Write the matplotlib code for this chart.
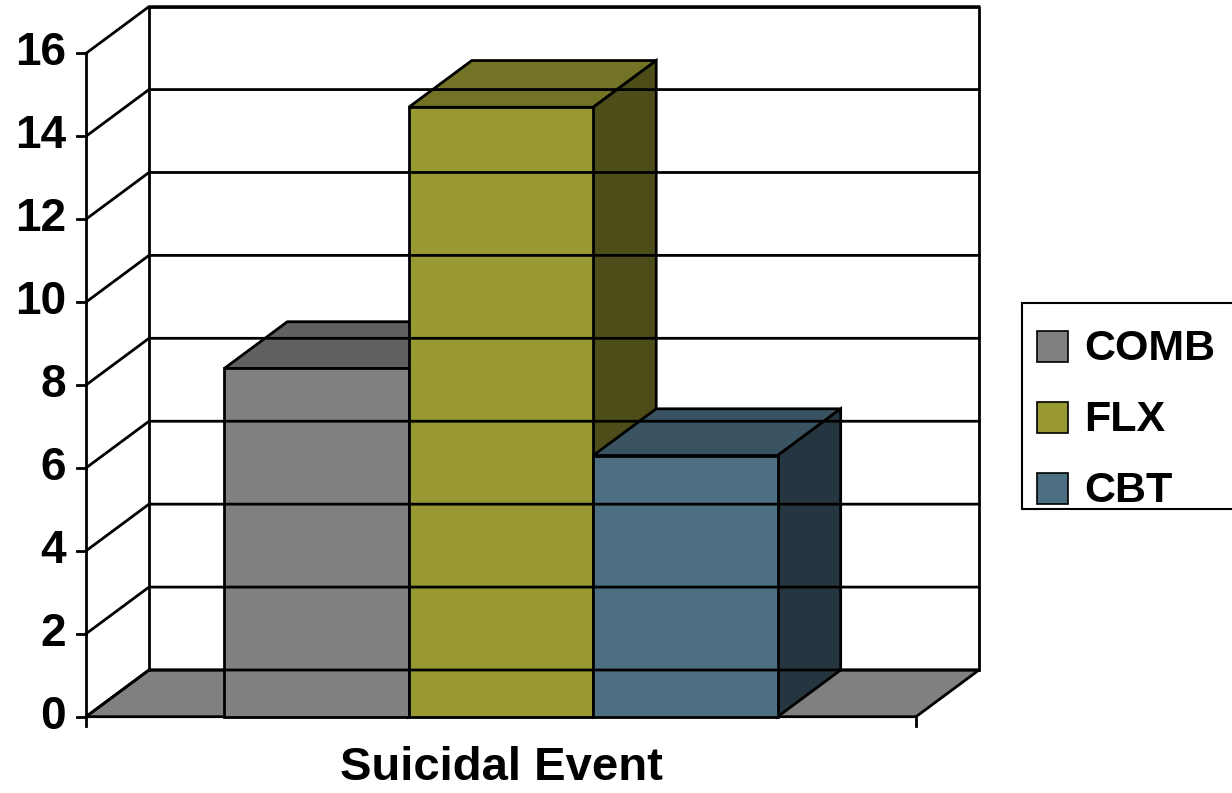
import matplotlib
matplotlib.use("Agg")
import matplotlib.pyplot as plt
from matplotlib.patches import Rectangle

# suicidal events (%) by treatment arm
groups = ['COMB', 'FLX', 'CBT']
values = [8.4, 14.7, 6.3]
category = 'Suicidal Event'
yticks = [0, 2, 4, 6, 8, 10, 12, 14, 16]

face = ['#808080', '#999933', '#4d6f82']
top = ['#606060', '#737326', '#3a5362']
side = ['#404040', '#4d4d1a', '#263640']

# chart geometry in pixels
X0, X1 = 86, 916          # front floor edge
Y0 = 716.7                 # front zero line
K = 41.46                  # px per unit
DX, DY = 63, -46.7         # depth offset
GAP = 1.5                  # gap width relative to bar width

W, H = 1232, 793
fig = plt.figure(figsize=(W / 100, H / 100), dpi=100)
ax = fig.add_axes([0, 0, 1, 1])
ax.set_xlim(0, W)
ax.set_ylim(H, 0)
ax.axis('off')

ymax = yticks[-1]
font = 'Liberation Sans'


def py(v, d=0.0):
    return Y0 - v * K + d * DY


def px(x, d=0.0):
    return x + d * DX


lw = 2
# back wall and left wall outline
ax.plot([px(X0, 1), px(X1, 1), px(X1, 1)], [py(ymax, 1), py(ymax, 1), py(0, 1)],
        color='k', lw=lw)
ax.plot([px(X0, 1), px(X0, 1)], [py(0, 1), py(ymax, 1)], color='k', lw=lw)
ax.plot([X0, X0], [py(0), py(ymax)], color='k', lw=lw)

for t in yticks:
    ax.plot([X0, px(X0, 1), px(X1, 1)], [py(t), py(t, 1), py(t, 1)], color='k', lw=lw)
    ax.plot([X0 - 9, X0], [py(t), py(t)], color='k', lw=lw)
    ax.text(X0 - 20, py(t), str(t), ha='right', va='center', fontsize=33,
            fontweight='bold', family=font)

# floor
ax.fill([X0, X1, px(X1, 1), px(X0, 1)], [py(0), py(0), py(0, 1), py(0, 1)],
        facecolor='#808080', edgecolor='k', lw=lw)
ax.plot([X0, X0], [py(0), py(0) + 9], color='k', lw=lw)
ax.plot([X1, X1], [py(0), py(0) + 9], color='k', lw=lw)

# 3d bars
n = len(values)
bw = (X1 - X0) / (n + GAP)
left0 = X0 + GAP / 2 * bw
for i, v in enumerate(values):
    l = left0 + i * bw
    r = l + bw
    ax.fill([l, r, px(r, 1), px(l, 1)], [py(v), py(v), py(v, 1), py(v, 1)],
            facecolor=top[i], edgecolor='k', lw=lw, joinstyle='miter')
    ax.fill([r, px(r, 1), px(r, 1), r], [py(0), py(0, 1), py(v, 1), py(v)],
            facecolor=side[i], edgecolor='k', lw=lw, joinstyle='miter')
    ax.fill([l, r, r, l], [py(0), py(0), py(v), py(v)],
            facecolor=face[i], edgecolor='k', lw=lw, joinstyle='miter')

ax.text((X0 + X1) / 2, 780, category, ha='center', va='baseline', fontsize=34,
        fontweight='bold', family=font)

# legend box, runs off the right edge
ax.add_patch(Rectangle((1022, 303), 240, 206, facecolor='white', edgecolor='k',
                       lw=1.5, clip_on=False))
for i, g in enumerate(groups):
    base = 360 + i * 71
    ax.add_patch(Rectangle((1037, base - 29), 31, 31, facecolor=face[i],
                           edgecolor='k', lw=1.2))
    ax.text(1084, base, g, ha='left', va='baseline', fontsize=31,
            fontweight='bold', family=font)

fig.savefig('out.png', dpi=100)
